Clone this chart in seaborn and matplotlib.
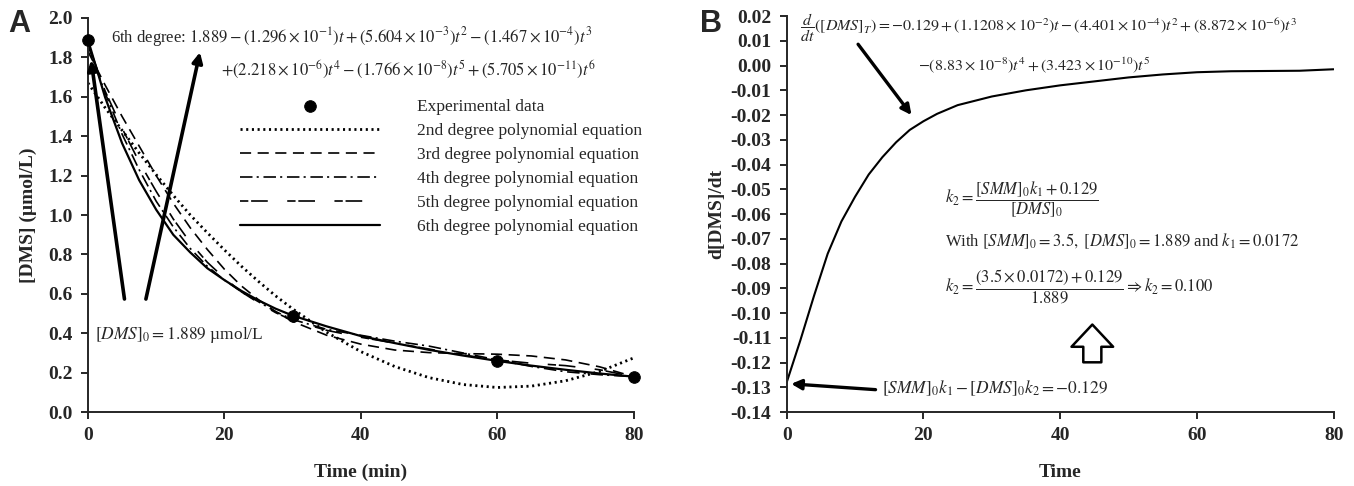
import matplotlib
matplotlib.use("Agg")
import matplotlib.pyplot as plt
import seaborn as sns

# ---- data ----
t_exp = [0, 30, 60, 80]
dms_exp = [1.889, 0.487, 0.258, 0.178]

t_fit = [0, 2.5, 5, 7.5, 10, 12.5, 15, 17.5, 20, 22.5, 25, 27.5, 30,
         35, 40, 45, 50, 55, 60, 65, 70, 75, 80]
deg2 = [1.67, 1.545, 1.43, 1.315, 1.205, 1.10, 1.00, 0.91, 0.823, 0.74, 0.663, 0.59, 0.524,
        0.405, 0.307, 0.231, 0.175, 0.14, 0.125, 0.132, 0.159, 0.206, 0.275]
deg3 = [1.83, 1.66, 1.50, 1.35, 1.20, 1.06, 0.935, 0.825, 0.725, 0.64, 0.57, 0.51, 0.46,
        0.39, 0.345, 0.315, 0.302, 0.297, 0.294, 0.285, 0.265, 0.23, 0.18]
deg4 = [1.86, 1.62, 1.41, 1.23, 1.07, 0.94, 0.83, 0.74, 0.67, 0.61, 0.56, 0.51, 0.47,
        0.42, 0.39, 0.36, 0.335, 0.30, 0.265, 0.232, 0.205, 0.19, 0.18]
deg5 = [1.87, 1.63, 1.44, 1.27, 1.12, 0.98, 0.86, 0.76, 0.68, 0.61, 0.555, 0.505, 0.465,
        0.415, 0.38, 0.35, 0.32, 0.29, 0.265, 0.248, 0.236, 0.215, 0.18]
deg6 = [1.889, 1.598, 1.364, 1.177, 1.027, 0.90, 0.81, 0.73, 0.67, 0.615, 0.567, 0.525, 0.49,
        0.435, 0.386, 0.35, 0.316, 0.287, 0.26, 0.236, 0.215, 0.196, 0.18]

t_der = [0, 2, 4, 6, 8, 10, 12, 14, 16, 18, 20, 22, 25, 30, 35, 40, 45, 50,
         55, 60, 65, 70, 75, 80]
deriv = [-0.128, -0.111, -0.093, -0.076, -0.063, -0.053, -0.044, -0.037, -0.031, -0.026,
         -0.0225, -0.0195, -0.016, -0.0125, -0.010, -0.008, -0.0064, -0.0048, -0.0036,
         -0.0027, -0.0023, -0.0022, -0.0021, -0.0015]

xticks = [0, 20, 40, 60, 80]
yticks_a = [0.0, 0.2, 0.4, 0.6, 0.8, 1.0, 1.2, 1.4, 1.6, 1.8, 2.0]
yticks_b = [0.02, 0.01, 0.00, -0.01, -0.02, -0.03, -0.04, -0.05, -0.06, -0.07,
            -0.08, -0.09, -0.10, -0.11, -0.12, -0.13, -0.14]

sns.set_style("ticks")
plt.rcParams["font.family"] = ["Liberation Serif", "DejaVu Serif"]
plt.rcParams["mathtext.fontset"] = "stix"
plt.rcParams["axes.unicode_minus"] = False
plt.rcParams["lines.scale_dashes"] = False
plt.rcParams["axes.linewidth"] = 1.4
plt.rcParams["xtick.major.width"] = 1.4
plt.rcParams["ytick.major.width"] = 1.4

fig = plt.figure(figsize=(13.54, 4.86), dpi=100)
axA = fig.add_axes([0.065, 0.152, 0.403, 0.811])
axB = fig.add_axes([0.581, 0.152, 0.404, 0.815])

# ---- panel A ----
sns.scatterplot(x=t_exp, y=dms_exp, ax=axA, color="black", s=70, zorder=6,
                clip_on=False, label="Experimental data", edgecolor="black")
styles = [
    (deg2, (0, (1.5, 2.6)), 2.0, "2nd degree polynomial equation"),
    (deg3, (0, (8, 4.7)), 1.2, "3rd degree polynomial equation"),
    (deg4, (0, (9, 3, 1.5, 3.4)), 1.2, "4th degree polynomial equation"),
    (deg5, (0, (6, 2, 12, 14)), 1.2, "5th degree polynomial equation"),
    (deg6, "-", 1.6, "6th degree polynomial equation"),
]
for vals, ls, lw, lab in styles:
    sns.lineplot(x=t_fit, y=vals, ax=axA, color="black", linestyle=ls, lw=lw, label=lab)

axA.set_xlim(0, 80)
axA.set_ylim(0, 2.0)
axA.set_xticks(xticks)
axA.set_yticks(yticks_a)
axA.set_yticklabels([f"{v:.1f}" for v in yticks_a])
axA.set_xlabel("Time (min)", fontsize=14, fontweight="bold", labelpad=14)
axA.set_ylabel("[DMS] (µmol/L)", fontsize=14, fontweight="bold", labelpad=8)
axA.legend(loc="upper left", bbox_to_anchor=(0.278, 0.795), frameon=False, fontsize=12.5,
           handlelength=8.1, handletextpad=2.1, labelspacing=0.45, borderpad=0,
           borderaxespad=0)

axA.text(3.4, 1.904, r"6th degree: $1.889-\left(1.296\times10^{-1}\right)t+\left(5.604\times10^{-3}\right)t^{2}-\left(1.467\times10^{-4}\right)t^{3}$",
         fontsize=12, va="center", ha="left")
axA.text(19.5, 1.736, r"$+\left(2.218\times10^{-6}\right)t^{4}-\left(1.766\times10^{-8}\right)t^{5}+\left(5.705\times10^{-11}\right)t^{6}$",
         fontsize=12, va="center", ha="left")
axA.text(1.0, 0.39, r"$\left[DMS\right]_{0}=1.889$ µmol/L", fontsize=12.5, va="center", ha="left")
axA.annotate("", xy=(0.4, 1.80), xytext=(5.4, 0.56),
             arrowprops=dict(arrowstyle="-|>,head_length=0.6,head_width=0.3", lw=2.6, color="black"))
axA.annotate("", xy=(16.5, 1.84), xytext=(8.4, 0.56),
             arrowprops=dict(arrowstyle="-|>,head_length=0.6,head_width=0.3", lw=2.6, color="black"))

# ---- panel B ----
sns.lineplot(x=t_der, y=deriv, ax=axB, color="black", lw=1.5)
axB.set_xlim(0, 80)
axB.set_ylim(-0.14, 0.02)
axB.set_xticks(xticks)
axB.set_yticks(yticks_b)
axB.set_yticklabels([f"{v:.2f}" for v in yticks_b])
axB.set_xlabel("Time", fontsize=14, fontweight="bold", labelpad=14)
axB.set_ylabel("d[DMS]/dt", fontsize=14, fontweight="bold", labelpad=4)

axB.text(1.9, 0.0155, r"$\dfrac{d}{dt}\left(\left[DMS\right]_{T}\right)=-0.129+\left(1.1208\times10^{-2}\right)t-\left(4.401\times10^{-4}\right)t^{2}+\left(8.872\times10^{-6}\right)t^{3}$",
         fontsize=11.5, va="center", ha="left")
axB.text(19.2, 0.0, r"$-\left(8.83\times10^{-8}\right)t^{4}+\left(3.423\times10^{-10}\right)t^{5}$",
         fontsize=11.5, va="center", ha="left")
axB.annotate("", xy=(18.5, -0.0209), xytext=(10.2, 0.0095),
             arrowprops=dict(arrowstyle="-|>,head_length=0.6,head_width=0.3", lw=2.4, color="black"))
axB.annotate("", xy=(0.25, -0.1285), xytext=(13.4, -0.131),
             arrowprops=dict(arrowstyle="-|>,head_length=0.6,head_width=0.3", lw=2.4, color="black"))
axB.text(14.0, -0.1305, r"$\left[SMM\right]_{0}k_{1}-\left[DMS\right]_{0}k_{2}=-0.129$",
         fontsize=12.5, va="center", ha="left")
axB.text(23.1, -0.054, r"$k_{2}=\dfrac{\left[SMM\right]_{0}k_{1}+0.129}{\left[DMS\right]_{0}}$",
         fontsize=12, va="center", ha="left")
axB.text(23.1, -0.0708, r"With $\left[SMM\right]_{0}=3.5,\ \left[DMS\right]_{0}=1.889$ and $k_{1}=0.0172$",
         fontsize=12, va="center", ha="left")
axB.text(23.1, -0.089, r"$k_{2}=\dfrac{\left(3.5\times0.0172\right)+0.129}{1.889}\Rightarrow k_{2}=0.100$",
         fontsize=12, va="center", ha="left")
axB.annotate("", xy=(44.7, -0.1035), xytext=(44.7, -0.121),
             arrowprops=dict(arrowstyle="simple,head_length=0.8,head_width=1.5,tail_width=0.65",
                             fc="white", ec="black", lw=1.8, mutation_scale=20))

for ax in (axA, axB):
    sns.despine(ax=ax)
    ax.tick_params(direction="out", length=5, labelsize=14, pad=6)
    for lab in ax.get_xticklabels() + ax.get_yticklabels():
        lab.set_fontweight("bold")

fig.text(0.006, 0.935, "A", fontsize=22, fontweight="bold", family="Liberation Sans")
fig.text(0.517, 0.935, "B", fontsize=22, fontweight="bold", family="Liberation Sans")

fig.savefig("out.png", dpi=100)
